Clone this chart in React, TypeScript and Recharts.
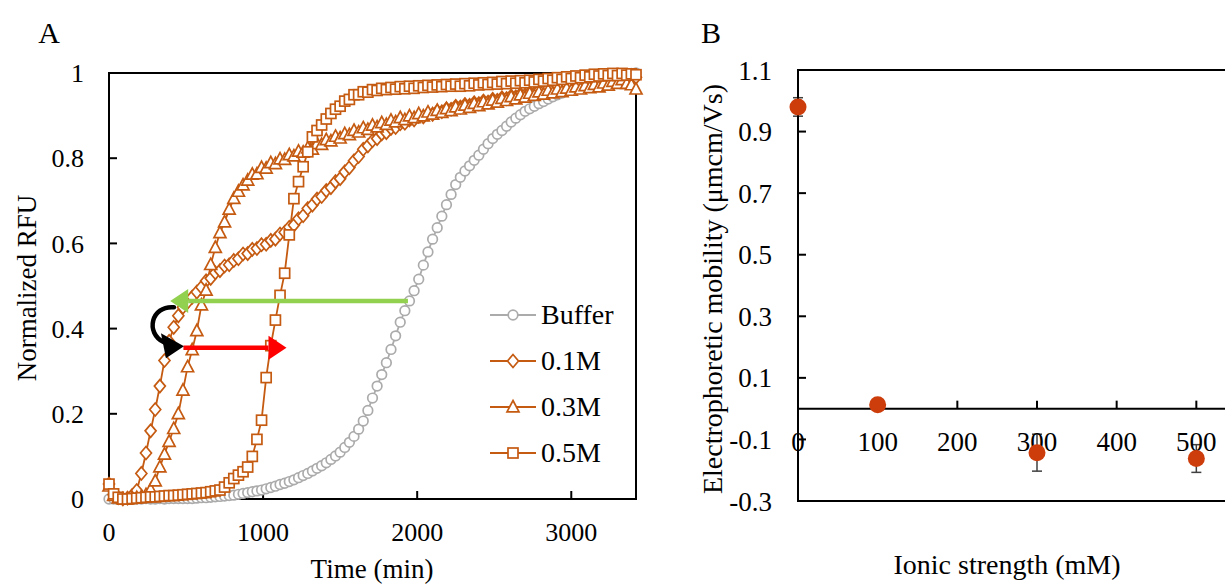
import {
  ErrorBar,
  Legend,
  Line,
  LineChart,
  ReferenceArea,
  ReferenceDot,
  ReferenceLine,
  Scatter,
  ScatterChart,
  XAxis,
  YAxis,
} from "recharts";

const SERIF = '"Liberation Serif", Tinos, "Times New Roman", "DejaVu Serif", "Noto Serif", serif';
const ORANGE = "#C55A11";
const GRAY = "#ABABAB";
const GREEN = "#92D050";
const RED = "#FF0000";
const DOT_RED = "#CC3D0B";

// ---- Panel A: normalized RFU over time (min) ----
const TIME = [
  0, 30, 60, 90, 120, 150, 180, 210, 240, 270,
  300, 330, 360, 390, 420, 450, 480, 510, 540, 570,
  600, 630, 660, 690, 720, 750, 780, 810, 840, 870,
  900, 930, 960, 990, 1020, 1050, 1080, 1110, 1140, 1170,
  1200, 1230, 1260, 1290, 1320, 1350, 1380, 1410, 1440, 1470,
  1500, 1530, 1560, 1590, 1620, 1650, 1680, 1710, 1740, 1770,
  1800, 1830, 1860, 1890, 1920, 1950, 1980, 2010, 2040, 2070,
  2100, 2130, 2160, 2190, 2220, 2250, 2280, 2310, 2340, 2370,
  2400, 2430, 2460, 2490, 2520, 2550, 2580, 2610, 2640, 2670,
  2700, 2730, 2760, 2790, 2820, 2850, 2880, 2910, 2940, 2970,
  3000, 3030, 3060, 3090, 3120, 3150, 3180, 3210, 3240, 3270,
  3300, 3330, 3360, 3390, 3420,
];

const BUFFER = [
  0.0, 0.0, 0.001, 0.0, 0.0, 0.001, 0.0, 0.0, 0.001, 0.0,
  0.0, 0.001, 0.0, 0.001, 0.001, 0.001, 0.001, 0.001, 0.001, 0.002,
  0.003, 0.003, 0.004, 0.005, 0.006, 0.007, 0.008, 0.009, 0.011, 0.013,
  0.015, 0.017, 0.019, 0.021, 0.024, 0.027, 0.03, 0.034, 0.037, 0.041,
  0.045, 0.05, 0.055, 0.06, 0.066, 0.072, 0.078, 0.085, 0.093, 0.101,
  0.11, 0.121, 0.133, 0.147, 0.164, 0.183, 0.208, 0.237, 0.265, 0.292,
  0.32, 0.351, 0.383, 0.415, 0.442, 0.465, 0.489, 0.516, 0.549, 0.58,
  0.61, 0.637, 0.664, 0.691, 0.715, 0.738, 0.755, 0.77, 0.782, 0.795,
  0.807, 0.821, 0.834, 0.846, 0.856, 0.865, 0.875, 0.885, 0.894, 0.902,
  0.91, 0.916, 0.922, 0.928, 0.933, 0.939, 0.944, 0.949, 0.953, 0.958,
  0.962, 0.966, 0.97, 0.974, 0.977, 0.98, 0.983, 0.985, 0.988, 0.99,
  0.993, 0.995, 0.997, 0.999, 1.0,
];

const M01 = [
  0.035, 0.01, 0.003, 0.0, 0.002, 0.008, 0.02, 0.06, 0.108, 0.16,
  0.21, 0.265, 0.325, 0.37, 0.403, 0.43, 0.45, 0.462, 0.474, 0.486,
  0.497, 0.512, 0.518, 0.531, 0.536, 0.547, 0.55, 0.56, 0.564, 0.575,
  0.576, 0.586, 0.588, 0.597, 0.598, 0.607, 0.61, 0.622, 0.626, 0.638,
  0.643, 0.658, 0.665, 0.682, 0.69, 0.704, 0.71, 0.724, 0.731, 0.745,
  0.752, 0.768, 0.778, 0.794, 0.804, 0.821, 0.829, 0.841, 0.846, 0.857,
  0.86, 0.87, 0.872, 0.881, 0.882, 0.89, 0.89, 0.898, 0.897, 0.904,
  0.903, 0.91, 0.909, 0.916, 0.915, 0.922, 0.92, 0.926, 0.924, 0.93,
  0.928, 0.934, 0.932, 0.938, 0.936, 0.942, 0.94, 0.946, 0.944, 0.95,
  0.948, 0.954, 0.952, 0.959, 0.957, 0.964, 0.962, 0.969, 0.967, 0.973,
  0.972, 0.978, 0.976, 0.982, 0.98, 0.986, 0.984, 0.989, 0.986, 0.991,
  0.988, 0.992, 0.989, 0.992, 0.99,
];

const M03 = [
  0.03, 0.008, 0.002, 0.0, 0.0, 0.002, 0.003, 0.005, 0.01, 0.022,
  0.042, 0.075, 0.105, 0.135, 0.165, 0.2, 0.255, 0.31, 0.35, 0.395,
  0.455, 0.49, 0.55, 0.59, 0.625, 0.65, 0.68, 0.705, 0.722, 0.737,
  0.748, 0.762, 0.763, 0.778, 0.776, 0.789, 0.787, 0.798, 0.797, 0.808,
  0.805, 0.816, 0.814, 0.824, 0.821, 0.834, 0.832, 0.843, 0.84, 0.851,
  0.847, 0.857, 0.855, 0.865, 0.861, 0.871, 0.867, 0.877, 0.873, 0.883,
  0.879, 0.889, 0.885, 0.895, 0.89, 0.899, 0.895, 0.904, 0.899, 0.908,
  0.903, 0.912, 0.907, 0.916, 0.911, 0.92, 0.915, 0.924, 0.919, 0.928,
  0.923, 0.932, 0.927, 0.936, 0.931, 0.94, 0.935, 0.944, 0.939, 0.948,
  0.943, 0.952, 0.947, 0.955, 0.95, 0.959, 0.953, 0.962, 0.956, 0.964,
  0.959, 0.967, 0.962, 0.97, 0.965, 0.973, 0.967, 0.976, 0.971, 0.98,
  0.975, 0.984, 0.975, 0.972, 0.962,
];

const M05 = [
  0.035, 0.012, 0.004, 0.0, 0.0, 0.001, 0.002, 0.003, 0.004, 0.005,
  0.005, 0.006, 0.007, 0.008, 0.008, 0.009, 0.01, 0.011, 0.012, 0.013,
  0.014, 0.015, 0.017, 0.019, 0.021, 0.028, 0.038, 0.048, 0.056, 0.064,
  0.075, 0.1, 0.14, 0.185, 0.285, 0.36, 0.42, 0.478, 0.53, 0.62,
  0.705, 0.745, 0.78, 0.815, 0.85, 0.865, 0.878, 0.892, 0.905, 0.915,
  0.922, 0.934, 0.938, 0.949, 0.949, 0.956, 0.955, 0.961, 0.959, 0.964,
  0.961, 0.966, 0.962, 0.968, 0.963, 0.969, 0.964, 0.97, 0.966, 0.971,
  0.967, 0.972, 0.968, 0.973, 0.969, 0.974, 0.969, 0.975, 0.97, 0.976,
  0.972, 0.977, 0.973, 0.978, 0.974, 0.98, 0.975, 0.981, 0.976, 0.982,
  0.977, 0.983, 0.979, 0.985, 0.981, 0.987, 0.983, 0.989, 0.985, 0.991,
  0.987, 0.993, 0.989, 0.995, 0.991, 0.997, 0.993, 0.998, 0.994, 0.999,
  0.994, 0.999, 0.995, 0.998, 0.996,
];

const A_X_TICKS = [0, 1000, 2000, 3000];
const A_Y_TICKS = [0, 0.2, 0.4, 0.6, 0.8, 1];

// annotation arrows (data coordinates)
const GREEN_ARROW = [{ x: 1940, y: 0.465 }, { x: 397, y: 0.465 }];
const RED_ARROW = [{ x: 483, y: 0.355 }, { x: 1152, y: 0.355 }];
const TURN_ARROW = { x: 415, y: 0.45 };

// ---- Panel B: electrophoretic mobility vs ionic strength ----
const IONIC = [0, 100, 300, 500];
const MOBILITY = [0.98, 0.013, -0.143, -0.162];
const MOBILITY_ERR = [0.03, 0.01, 0.06, 0.045];
const B_X_TICKS = [0, 100, 200, 300, 400, 500];
const B_Y_TICKS = [-0.3, -0.1, 0.1, 0.3, 0.5, 0.7, 0.9, 1.1];

type MarkerKind = "circle" | "diamond" | "triangle" | "square";

const SERIES: { key: string; name: string; color: string; marker: MarkerKind }[] = [
  { key: "buffer", name: "Buffer", color: GRAY, marker: "circle" },
  { key: "m01", name: "0.1M", color: ORANGE, marker: "diamond" },
  { key: "m03", name: "0.3M", color: ORANGE, marker: "triangle" },
  { key: "m05", name: "0.5M", color: ORANGE, marker: "square" },
];

const aData = TIME.map((t, i) => ({
  t,
  buffer: BUFFER[i],
  m01: M01[i],
  m03: M03[i],
  m05: M05[i],
}));

const bData = IONIC.map((x, i) => ({ x, y: MOBILITY[i], err: MOBILITY_ERR[i] }));

// shared geometry of panel A (the arrow overlay uses the same frame)
const A_W = 680;
const A_H = 584;
const A_MARGIN = { top: 73, right: 44, bottom: 0, left: 0 };

function Marker({ kind, cx, cy, color }: { kind: MarkerKind; cx: number; cy: number; color: string }) {
  const common = { fill: "#fff", stroke: color, strokeWidth: 1.7 };
  if (kind === "circle") return <circle cx={cx} cy={cy} r={4.8} {...common} />;
  if (kind === "square") return <rect x={cx - 5} y={cy - 5} width={10} height={10} {...common} />;
  if (kind === "diamond")
    return <polygon points={`${cx},${cy - 6.5} ${cx + 5.5},${cy} ${cx},${cy + 6.5} ${cx - 5.5},${cy}`} {...common} />;
  return <polygon points={`${cx},${cy - 6.5} ${cx + 6},${cy + 4.8} ${cx - 6},${cy + 4.8}`} {...common} />;
}

const dotFor = (kind: MarkerKind, color: string) => (p: any) => {
  const { cx, cy, index } = p;
  if (cx == null || cy == null) return <g key={`${kind}-${index}`} />;
  return <Marker key={`${kind}-${index}`} kind={kind} cx={cx} cy={cy} color={color} />;
};

// straight arrow drawn between the segment end points of a ReferenceLine
const straightArrow = (color: string) => (p: any) => {
  const { x1, y1, x2, y2 } = p;
  const dir = x2 > x1 ? 1 : -1;
  const head = 18;
  const half = 12;
  return (
    <g>
      <line x1={x1} y1={y1} x2={x2 - dir * head} y2={y2} stroke={color} strokeWidth={4.5} />
      <polygon points={`${x2},${y2} ${x2 - dir * head},${y2 - half} ${x2 - dir * head},${y2 + half}`} fill={color} />
    </g>
  );
};

const turnArrow = (p: any) => {
  const { cx, cy } = p;
  return (
    <g>
      <path
        d={`M ${cx + 1} ${cy} C ${cx - 22} ${cy - 2}, ${cx - 28} ${cy + 26}, ${cx - 9} ${cy + 35}`}
        fill="none"
        stroke="#000"
        strokeWidth={4.5}
        strokeLinecap="round"
      />
      <polygon points={`${cx - 12},${cy + 26} ${cx - 7},${cy + 51} ${cx + 11},${cy + 39}`} fill="#000" />
    </g>
  );
};

const renderLegend = () => (
  <div style={{ fontFamily: SERIF }}>
    {SERIES.map((s) => (
      <div key={s.key} style={{ display: "flex", alignItems: "center", height: 46 }}>
        <svg width={50} height={20} style={{ display: "block" }}>
          <line x1={2} x2={48} y1={10} y2={10} stroke={s.color} strokeWidth={1.8} />
          <Marker kind={s.marker} cx={25} cy={10} color={s.color} />
        </svg>
        <span style={{ fontSize: 28, color: "#000", marginLeft: 3, lineHeight: 1 }}>{s.name}</span>
      </div>
    ))}
  </div>
);

const tickStyle = { fill: "#000", fontSize: 26, fontFamily: SERIF };

function PanelA() {
  return (
    <div style={{ position: "absolute", left: 0, top: 0 }}>
      <LineChart width={A_W} height={A_H} data={aData} margin={A_MARGIN}>
        <XAxis
          dataKey="t"
          type="number"
          domain={[0, 3420]}
          ticks={A_X_TICKS}
          height={85}
          tickSize={-8}
          tickMargin={32}
          axisLine={{ stroke: "#000", strokeWidth: 2 }}
          tickLine={{ stroke: "#000", strokeWidth: 2 }}
          tick={tickStyle}
        />
        <YAxis
          type="number"
          domain={[0, 1]}
          ticks={A_Y_TICKS}
          width={109}
          tickSize={-8}
          tickMargin={33}
          axisLine={{ stroke: "#000", strokeWidth: 2 }}
          tickLine={{ stroke: "#000", strokeWidth: 2 }}
          tick={tickStyle}
        />
        <ReferenceArea x1={0} x2={3420} y1={0} y2={1} fill="none" stroke="#000" strokeWidth={2} />
        {SERIES.map((s) => (
          <Line
            key={s.key}
            dataKey={s.key}
            type="linear"
            stroke={s.color}
            strokeWidth={1.8}
            dot={dotFor(s.marker, s.color)}
            activeDot={false}
            isAnimationActive={false}
          />
        ))}
        <Legend
          layout="vertical"
          align="center"
          verticalAlign="middle"
          content={renderLegend}
          wrapperStyle={{ left: 488, top: 292, width: 150 }}
        />
      </LineChart>
      {/* same frame again on top, so the annotation arrows sit above the markers */}
      <div style={{ position: "absolute", left: 0, top: 0, pointerEvents: "none" }}>
        <LineChart width={A_W} height={A_H} data={aData} margin={A_MARGIN}>
          <XAxis dataKey="t" type="number" domain={[0, 3420]} height={85} tick={false} axisLine={false} tickLine={false} />
          <YAxis type="number" domain={[0, 1]} width={109} tick={false} axisLine={false} tickLine={false} />
          <Line dataKey="buffer" stroke="none" dot={false} activeDot={false} isAnimationActive={false} />
          <ReferenceLine segment={GREEN_ARROW} stroke={GREEN} shape={straightArrow(GREEN)} />
          <ReferenceLine segment={RED_ARROW} stroke={RED} shape={straightArrow(RED)} />
          <ReferenceDot x={TURN_ARROW.x} y={TURN_ARROW.y} r={1} shape={turnArrow} />
        </LineChart>
      </div>
    </div>
  );
}

const bTick = (label: number) => (p: any) => {
  const { cx, cy } = p;
  return (
    <g>
      {label !== 0 && <line x1={cx} x2={cx} y1={cy} y2={cy - 8} stroke="#000" strokeWidth={2} />}
      <text x={cx} y={cy + 42} textAnchor="middle" fontSize={27} fontFamily={SERIF} fill="#000">
        {label}
      </text>
    </g>
  );
};

function PanelB() {
  return (
    <div style={{ position: "absolute", left: 680, top: 0 }}>
      <ScatterChart width={616} height={584} margin={{ top: 70, right: 20, bottom: 83, left: 0 }}>
        <XAxis dataKey="x" type="number" domain={[0, 600]} hide />
        <YAxis
          dataKey="y"
          type="number"
          domain={[-0.3, 1.1]}
          ticks={B_Y_TICKS}
          width={118}
          tickSize={-8}
          tickMargin={34}
          axisLine={{ stroke: "#000", strokeWidth: 2 }}
          tickLine={{ stroke: "#000", strokeWidth: 2 }}
          tick={{ ...tickStyle, fontSize: 27 }}
        />
        <ReferenceArea x1={0} x2={600} y1={-0.3} y2={1.1} fill="none" stroke="#000" strokeWidth={2} />
        <ReferenceLine y={0} stroke="#000" strokeWidth={2} />
        {B_X_TICKS.map((t) => (
          <ReferenceDot key={t} x={t} y={0} r={1} shape={bTick(t)} />
        ))}
        <Scatter
          data={bData}
          isAnimationActive={false}
          shape={(p: any) => <circle cx={p.cx} cy={p.cy} r={8.5} fill={DOT_RED} />}
        >
          <ErrorBar dataKey="err" direction="y" width={5} stroke="#404040" strokeWidth={1.5} />
        </Scatter>
      </ScatterChart>
    </div>
  );
}

export default function App() {
  return (
    <div
      style={{
        position: "fixed",
        left: 0,
        top: 0,
        width: 1225,
        height: 584,
        overflow: "hidden",
        background: "#fff",
        fontFamily: SERIF,
      }}
    >
      <PanelA />
      <PanelB />
      <svg width={1225} height={584} style={{ position: "absolute", left: 0, top: 0, pointerEvents: "none" }}>
        <g fontFamily={SERIF} fill="#000">
          <text x={49} y={43} fontSize={30} textAnchor="middle">A</text>
          <text x={711} y={43} fontSize={30} textAnchor="middle">B</text>
          <text x={372} y={578} fontSize={27} textAnchor="middle">Time (min)</text>
          <text x={1007} y={574} fontSize={28} textAnchor="middle">Ionic strength (mM)</text>
          <text x={36} y={288} fontSize={27} textAnchor="middle" transform="rotate(-90 36 288)">
            Normalized RFU
          </text>
          <text x={722} y={289} fontSize={28} textAnchor="middle" transform="rotate(-90 722 289)">
            Electrophoretic mobility (μmcm/Vs)
          </text>
        </g>
      </svg>
    </div>
  );
}
